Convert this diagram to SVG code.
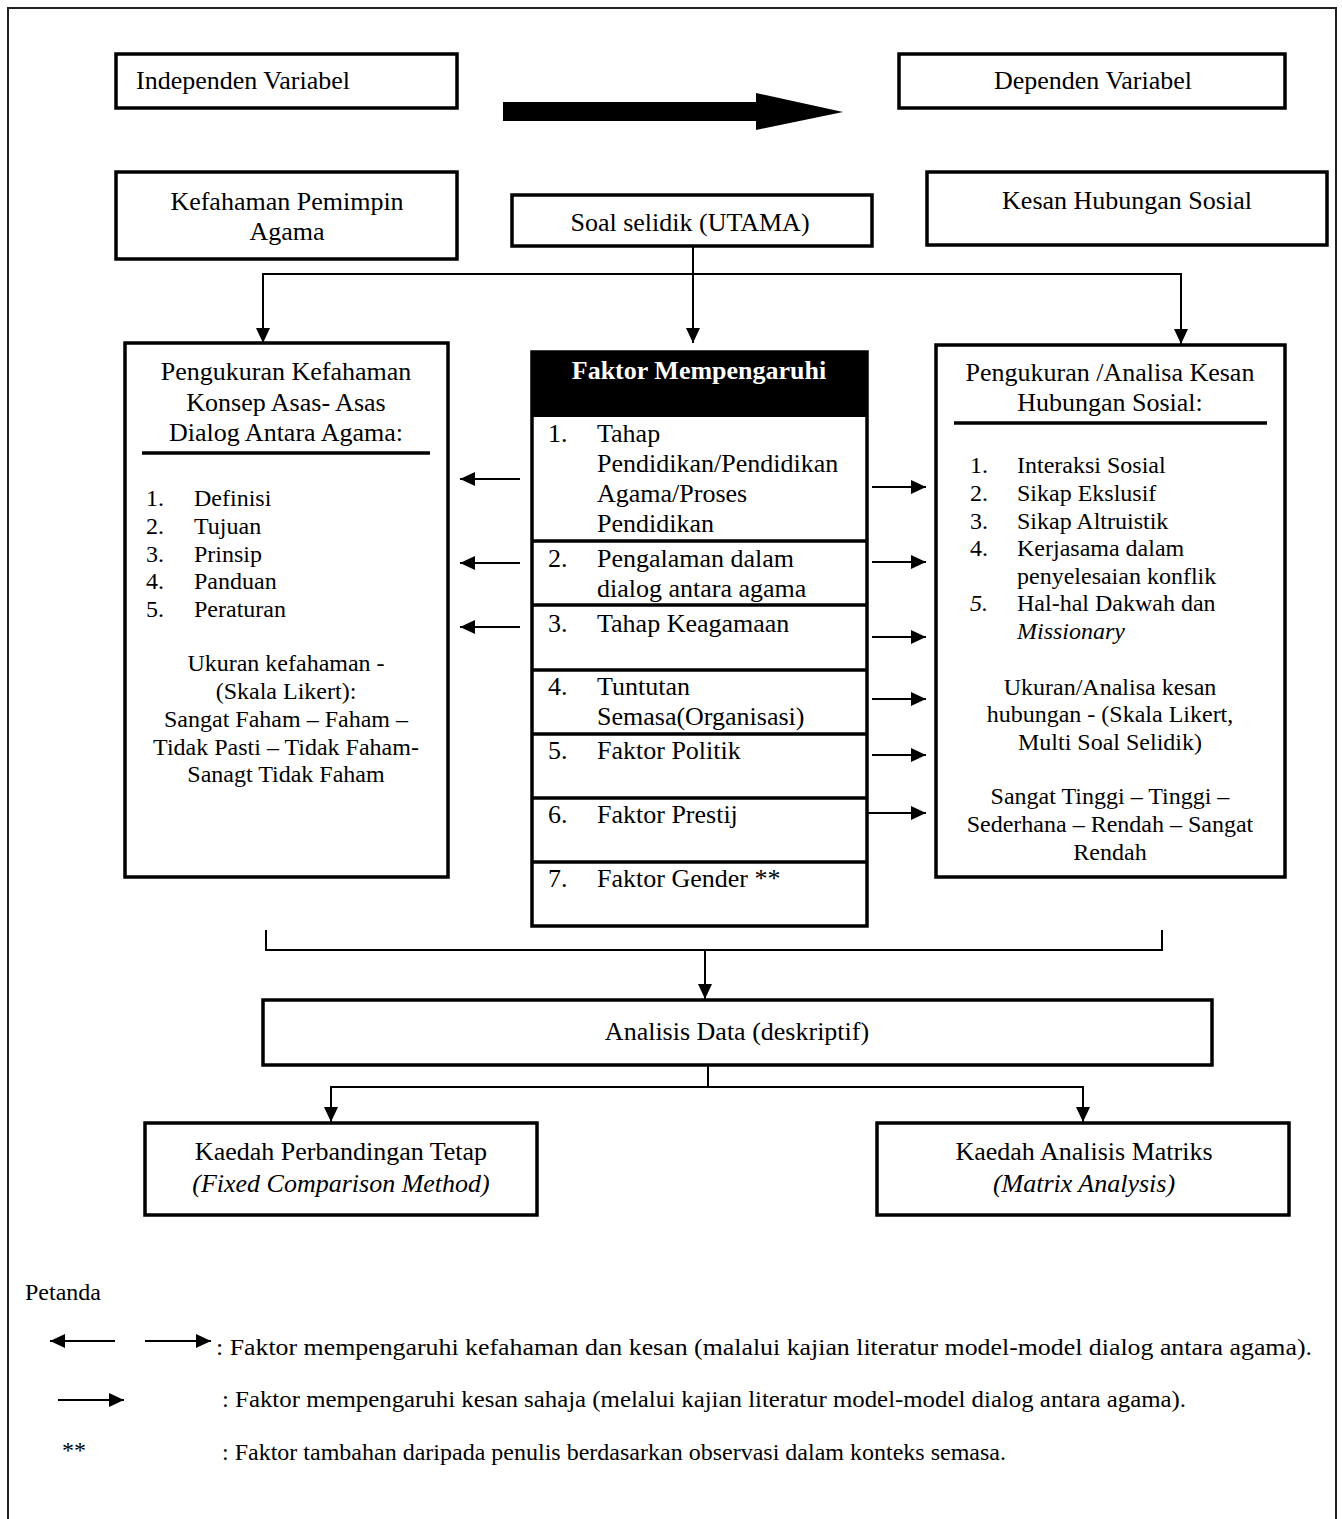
<svg xmlns="http://www.w3.org/2000/svg" width="1342" height="1519" viewBox="0 0 1342 1519">
<defs>
<style>
text{font-family:"Liberation Serif","Times New Roman",serif;fill:#000}
.t26{font-size:26px}
.t24{font-size:24px}
.c{text-anchor:middle}
.box{fill:#fff;stroke:#000;stroke-width:3.5}
.ln{fill:none;stroke:#000;stroke-width:2}
.sep{stroke:#000;stroke-width:3.5}
.it{font-style:italic}
</style>
<marker id="ah" viewBox="0 0 15 14" refX="15" refY="7" markerWidth="15" markerHeight="14" markerUnits="userSpaceOnUse" orient="auto">
<path d="M0,0 L15,7 L0,14 z" fill="#000"/>
</marker>
</defs>
<rect width="1342" height="1519" fill="#fff"/>
<path d="M8,1519 V8 H1336 V1519" fill="none" stroke="#222" stroke-width="2"/>

<g id="independen">
<rect class="box" x="116" y="54" width="341" height="54"/>
<text class="t26" x="136" y="89">Independen Variabel</text>
</g>
<g id="big-arrow">
<path d="M503,102 H756 V93 L843,112 L756,130 V121 H503 z" fill="#000"/>
</g>
<g id="dependen">
<rect class="box" x="899" y="54" width="386" height="54"/>
<text class="t26 c" x="1093" y="89">Dependen Variabel</text>
</g>
<g id="kefahaman">
<rect class="box" x="116" y="172" width="341" height="87"/>
<text class="t26 c" x="287" y="210">Kefahaman Pemimpin</text>
<text class="t26 c" x="287" y="240">Agama</text>
</g>
<g id="soal">
<rect class="box" x="512" y="195" width="360" height="51"/>
<text class="t26 c" x="690" y="231">Soal selidik (UTAMA)</text>
</g>
<g id="kesan">
<rect class="box" x="927" y="172" width="400" height="73"/>
<text class="t26 c" x="1127" y="209">Kesan Hubungan Sosial</text>
</g>

<g id="pengukuran-kefahaman">
<rect class="box" x="125" y="343" width="323" height="534"/>
<text class="t26 c" x="286" y="380">Pengukuran Kefahaman</text>
<text class="t26 c" x="286" y="411">Konsep Asas- Asas</text>
<text class="t26 c" x="286" y="441">Dialog Antara Agama:</text>
<line class="sep" x1="142" y1="453" x2="430" y2="453"/>
<text class="t24" x="146" y="506">1.</text><text class="t24" x="194" y="506">Definisi</text>
<text class="t24" x="146" y="534">2.</text><text class="t24" x="194" y="534">Tujuan</text>
<text class="t24" x="146" y="562">3.</text><text class="t24" x="194" y="562">Prinsip</text>
<text class="t24" x="146" y="589">4.</text><text class="t24" x="194" y="589">Panduan</text>
<text class="t24" x="146" y="617">5.</text><text class="t24" x="194" y="617">Peraturan</text>
<text class="t24 c" x="286" y="671">Ukuran kefahaman -</text>
<text class="t24 c" x="286" y="699">(Skala Likert):</text>
<text class="t24 c" x="286" y="727">Sangat Faham – Faham –</text>
<text class="t24 c" x="286" y="755">Tidak Pasti – Tidak Faham-</text>
<text class="t24 c" x="286" y="782">Sanagt Tidak Faham</text>
</g>

<g id="faktor">
<rect class="box" x="532" y="352" width="335" height="574"/>
<rect x="532" y="352" width="335" height="65" fill="#000"/>
<text class="t26 c" x="699" y="379" font-weight="bold" style="fill:#fff">Faktor Mempengaruhi</text>
<line class="sep" x1="532" y1="541" x2="867" y2="541"/>
<line class="sep" x1="532" y1="605" x2="867" y2="605"/>
<line class="sep" x1="532" y1="670" x2="867" y2="670"/>
<line class="sep" x1="532" y1="734" x2="867" y2="734"/>
<line class="sep" x1="532" y1="798" x2="867" y2="798"/>
<line class="sep" x1="532" y1="862" x2="867" y2="862"/>
<text class="t26" x="548" y="442">1.</text>
<text class="t26" x="597" y="442">Tahap</text>
<text class="t26" x="597" y="472">Pendidikan/Pendidikan</text>
<text class="t26" x="597" y="502">Agama/Proses</text>
<text class="t26" x="597" y="532">Pendidikan</text>
<text class="t26" x="548" y="567">2.</text>
<text class="t26" x="597" y="567">Pengalaman dalam</text>
<text class="t26" x="597" y="597">dialog antara agama</text>
<text class="t26" x="548" y="632">3.</text>
<text class="t26" x="597" y="632">Tahap Keagamaan</text>
<text class="t26" x="548" y="695">4.</text>
<text class="t26" x="597" y="695">Tuntutan</text>
<text class="t26" x="597" y="725">Semasa(Organisasi)</text>
<text class="t26" x="548" y="759">5.</text>
<text class="t26" x="597" y="759">Faktor Politik</text>
<text class="t26" x="548" y="823">6.</text>
<text class="t26" x="597" y="823">Faktor Prestij</text>
<text class="t26" x="548" y="887">7.</text>
<text class="t26" x="597" y="887">Faktor Gender **</text>
</g>

<g id="pengukuran-kesan">
<rect class="box" x="936" y="345" width="349" height="532"/>
<text class="t26 c" x="1110" y="381">Pengukuran /Analisa Kesan</text>
<text class="t26 c" x="1110" y="411">Hubungan Sosial:</text>
<line class="sep" x1="954" y1="423" x2="1267" y2="423"/>
<text class="t24" x="970" y="473">1.</text><text class="t24" x="1017" y="473">Interaksi Sosial</text>
<text class="t24" x="970" y="501">2.</text><text class="t24" x="1017" y="501">Sikap Ekslusif</text>
<text class="t24" x="970" y="529">3.</text><text class="t24" x="1017" y="529">Sikap Altruistik</text>
<text class="t24" x="970" y="556">4.</text><text class="t24" x="1017" y="556">Kerjasama dalam</text>
<text class="t24" x="1017" y="584">penyelesaian konflik</text>
<text class="t24 it" x="970" y="611">5.</text><text class="t24" x="1017" y="611">Hal-hal Dakwah dan</text>
<text class="t24 it" x="1017" y="639">Missionary</text>
<text class="t24 c" x="1110" y="695">Ukuran/Analisa kesan</text>
<text class="t24 c" x="1110" y="722">hubungan - (Skala Likert,</text>
<text class="t24 c" x="1110" y="750">Multi Soal Selidik)</text>
<text class="t24 c" x="1110" y="804">Sangat Tinggi – Tinggi –</text>
<text class="t24 c" x="1110" y="832">Sederhana – Rendah – Sangat</text>
<text class="t24 c" x="1110" y="860">Rendah</text>
</g>

<g id="analisis">
<rect class="box" x="263" y="1000" width="949" height="65"/>
<text class="t26 c" x="737" y="1040">Analisis Data (deskriptif)</text>
</g>
<g id="perbandingan">
<rect class="box" x="145" y="1123" width="392" height="92"/>
<text class="t26 c" x="341" y="1160">Kaedah Perbandingan Tetap</text>
<text class="t26 c it" x="341" y="1192">(Fixed Comparison Method)</text>
</g>
<g id="matriks">
<rect class="box" x="877" y="1123" width="412" height="92"/>
<text class="t26 c" x="1084" y="1160">Kaedah Analisis Matriks</text>
<text class="t26 c it" x="1084" y="1192">(Matrix Analysis)</text>
</g>

<g id="connectors">
<line class="ln" x1="693" y1="246" x2="693" y2="343" marker-end="url(#ah)"/>
<path class="ln" d="M263,343 V274 H1181 V344" marker-end="url(#ah)"/>
<line class="ln" x1="263" y1="274" x2="263" y2="343" marker-end="url(#ah)"/>
<line class="ln" x1="520" y1="479" x2="460" y2="479" marker-end="url(#ah)"/>
<line class="ln" x1="520" y1="563" x2="460" y2="563" marker-end="url(#ah)"/>
<line class="ln" x1="520" y1="627" x2="460" y2="627" marker-end="url(#ah)"/>
<line class="ln" x1="872" y1="487" x2="926" y2="487" marker-end="url(#ah)"/>
<line class="ln" x1="872" y1="562" x2="926" y2="562" marker-end="url(#ah)"/>
<line class="ln" x1="872" y1="637" x2="926" y2="637" marker-end="url(#ah)"/>
<line class="ln" x1="872" y1="699" x2="926" y2="699" marker-end="url(#ah)"/>
<line class="ln" x1="872" y1="755" x2="926" y2="755" marker-end="url(#ah)"/>
<line class="ln" x1="867" y1="813" x2="926" y2="813" marker-end="url(#ah)"/>
<path class="ln" d="M266,930 V950 H1162 V930"/>
<line class="ln" x1="705" y1="950" x2="705" y2="999" marker-end="url(#ah)"/>
<path class="ln" d="M708,1065 V1087"/>
<path class="ln" d="M331,1122 V1087 H1083 V1122" marker-end="url(#ah)"/>
<line class="ln" x1="331" y1="1087" x2="331" y2="1122" marker-end="url(#ah)"/>
</g>

<g id="legend">
<text class="t24" x="25" y="1300">Petanda</text>
<line class="ln" x1="115" y1="1341" x2="50" y2="1341" marker-end="url(#ah)"/>
<line class="ln" x1="145" y1="1341" x2="211" y2="1341" marker-end="url(#ah)"/>
<text class="t24" x="216" y="1355" textLength="1096" lengthAdjust="spacingAndGlyphs">: Faktor mempengaruhi kefahaman dan kesan (malalui kajian literatur model-model dialog antara agama).</text>
<line class="ln" x1="58" y1="1400" x2="124" y2="1400" marker-end="url(#ah)"/>
<text class="t24" x="222" y="1407" textLength="964" lengthAdjust="spacingAndGlyphs">: Faktor mempengaruhi kesan sahaja (melalui kajian literatur model-model dialog antara agama).</text>
<text class="t24" x="62" y="1458">**</text>
<text class="t24" x="222" y="1460" textLength="784" lengthAdjust="spacingAndGlyphs">: Faktor tambahan daripada penulis berdasarkan observasi dalam konteks semasa.</text>
</g>
</svg>
